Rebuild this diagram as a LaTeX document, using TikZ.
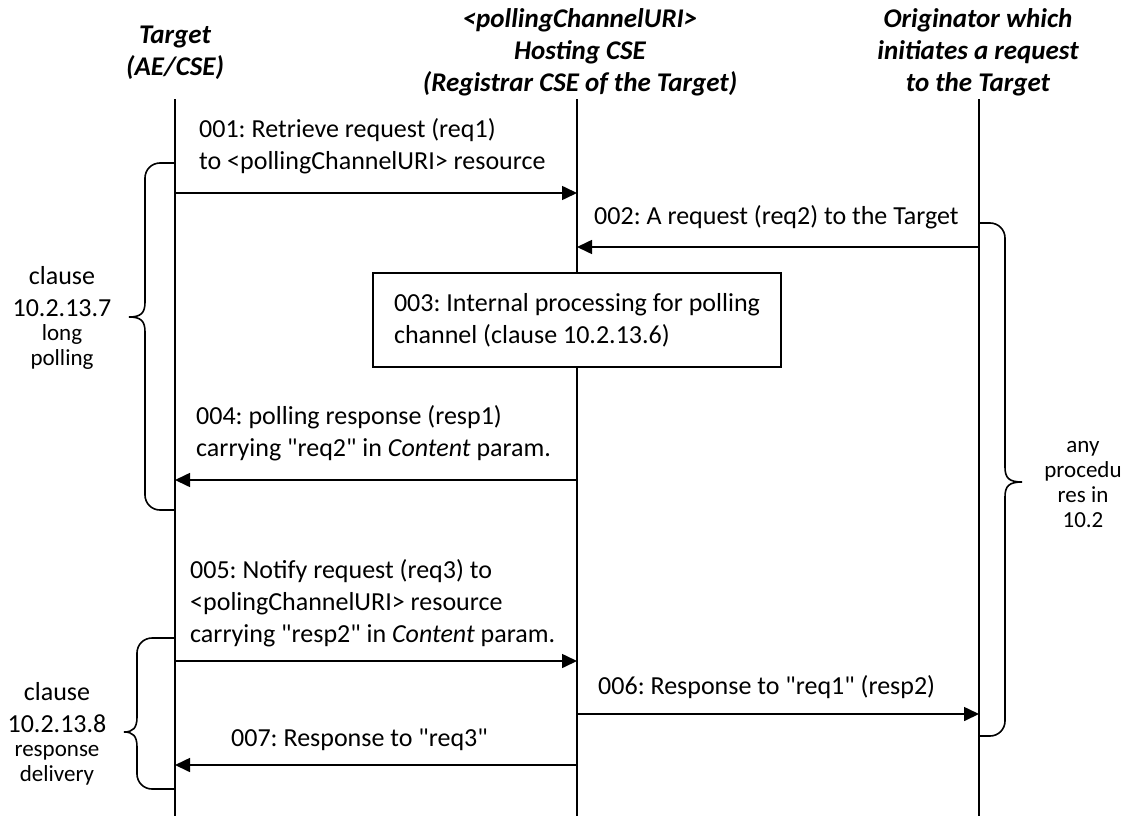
\documentclass[tikz,border=0pt]{standalone}
\usepackage{fontspec}
\setmainfont{Carlito}
\usetikzlibrary{positioning, calc, arrows.meta}
\newcommand\dq{\textquotedbl}

\begin{document}
\frenchspacing
\begin{tikzpicture}[x=1pt, y=-1pt,
    font=\fontsize{26}{32}\selectfont,
    life/.style={line width=1.6pt},
    msg/.style={line width=1.6pt, -{Triangle[length=15pt,width=14pt]}},
    brc/.style={line width=1.6pt, rounded corners=15pt},
    cusp/.style={line width=1.6pt},
    head/.style={font=\fontsize{27}{32}\selectfont\bfseries\itshape, align=center, inner sep=0pt},
    txt/.style={align=left, anchor=west, inner sep=0pt},
    note/.style={align=center, inner sep=0pt},
    smallnote/.style={note, font=\fontsize{23}{25}\selectfont},
    procbox/.style={draw, line width=1.6pt, fill=white, minimum width=408pt, minimum height=94pt, align=left}
]
\useasboundingbox (0,0) rectangle (1126,816);

% heads of the lifelines
\node[head] (tgtHead) at (175,53) {Target\\(AE/CSE)};
\node[head] (hstHead) at (580,52) {<pollingChannelURI>\\Hosting CSE\\(Registrar CSE of the Target)};
\node[head] (orgHead) at (978,52) {Originator which\\initiates a request\\to the Target};

% lifelines
\coordinate (tgtTop) at (175,99);
\coordinate (tgtBot) at (175,816);
\coordinate (hstTop) at (577,99);
\coordinate (hstBot) at (577,816);
\coordinate (orgTop) at (979,99);
\coordinate (orgBot) at (979,816);
\draw[life] (tgtTop) -- (tgtBot);
\draw[life] (hstTop) -- (hstBot);
\draw[life] (orgTop) -- (orgBot);

% message levels
\coordinate (y001) at (0,193);
\coordinate (y002) at (0,247);
\coordinate (y004) at (0,480);
\coordinate (y005) at (0,661);
\coordinate (y006) at (0,714);
\coordinate (y007) at (0,765);

% messages
\draw[msg] (tgtTop |- y001) -- (hstTop |- y001);
\node[txt] (t001) at (199,146) {001: Retrieve request (req1)\\to <pollingChannelURI> resource};

\draw[msg] (orgTop |- y002) -- (hstTop |- y002);
\node[txt] (t002) at (594,217) {002: A request (req2) to the Target};

\node[procbox] (p003) at (577,320) {003: Internal processing for polling\\channel (clause 10.2.13.6)};

\draw[msg] (hstTop |- y004) -- (tgtTop |- y004);
\node[txt] (t004) at (196,433) {004: polling response (resp1)\\carrying \dq req2\dq{} in \textit{Content} param.};

\draw[msg] (tgtTop |- y005) -- (hstTop |- y005);
\node[txt] (t005) at (190,603) {005: Notify request (req3) to\\<polingChannelURI> resource\\carrying \dq resp2\dq{} in \textit{Content} param.};

\draw[msg] (hstTop |- y006) -- (orgTop |- y006);
\node[txt] (t006) at (598,687) {006: Response to \dq req1\dq{} (resp2)};

\draw[msg] (hstTop |- y007) -- (tgtTop |- y007);
\node[txt] (t007) at (231,740) {007: Response to \dq req3\dq};

% braces
\draw[brc] (175,163) -- (145,163) -- (145,303);
\draw[cusp] (145,302) .. controls (145,313) and (141,317) .. (129,317)
    .. controls (141,317) and (145,321) .. (145,332);
\draw[brc] (145,331) -- (145,510) -- (175,510);

\draw[brc] (175,638) -- (137,638) -- (137,718);
\draw[cusp] (137,717) .. controls (137,728) and (133,732) .. (124,732)
    .. controls (133,732) and (137,736) .. (137,747);
\draw[brc] (137,746) -- (137,789) -- (175,789);

\draw[brc] (979,223) -- (1005,223) -- (1005,468);
\draw[cusp] (1005,467) .. controls (1005,478) and (1009,482) .. (1022,482)
    .. controls (1009,482) and (1005,486) .. (1005,497);
\draw[brc] (1005,496) -- (1005,736) -- (979,736);

% clause labels
\node[note] (c1) at (62,292) {clause\\10.2.13.7};
\node[smallnote] (c1b) at (62,347) {long\\polling};
\node[note] (c2) at (57,708) {clause\\10.2.13.8};
\node[smallnote] (c2b) at (57,765) {response\\delivery};
\node[smallnote] (any) at (1083,484) {any\\procedu\\res in\\10.2};
\end{tikzpicture}
\end{document}
